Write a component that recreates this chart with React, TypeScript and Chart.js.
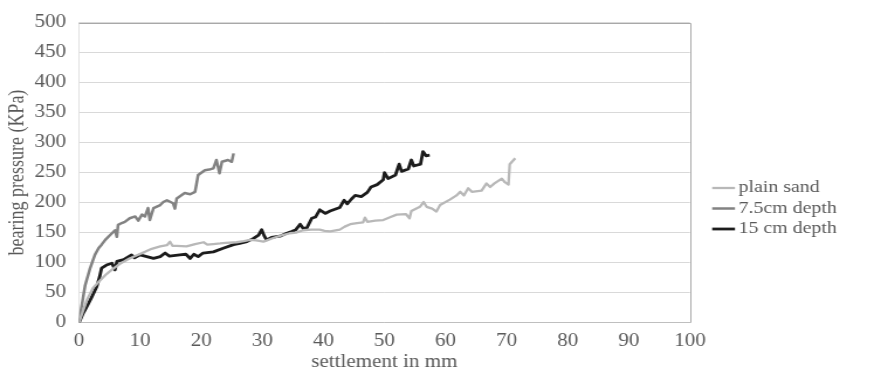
import React, { useEffect, useRef } from "react";
import { Chart, registerables } from "chart.js";

Chart.register(...registerables);

// ---------------- data ----------------
const seriesLabels = ["plain sand", "7.5cm depth", "15 cm depth"];
const seriesColors = ["#b8b8b8", "#828282", "#1c1c1c"];
const seriesWidths = [2.3, 2.5, 2.8];

const plainSandX = [0, 0.5, 1.3, 2.3, 3.4, 4.5, 5.6, 6.7, 8.1, 9.4, 10.8, 11.9, 13.3, 14.4, 14.9, 15.3, 16, 17.6, 19, 20.4, 21, 22, 23.1, 24, 25.8, 27, 28, 29, 30.2, 31.8, 33, 34.5, 35.5, 36.7, 38, 39.4, 40.2, 41.1, 42.7, 43.5, 44.4, 45.5, 46.5, 46.8, 47.2, 48.5, 49.8, 51, 52, 53.5, 54.1, 54.4, 55.8, 56.4, 56.9, 57.8, 58.5, 59.1, 60.7, 61.8, 62.4, 63, 63.7, 64.3, 65.9, 66.7, 67.3, 68, 69.2, 69.7, 70.3, 70.5, 71.4];
const plainSandY = [0, 15, 38, 58, 70, 81, 90, 98, 106, 112, 118, 123, 127, 129, 135, 128, 128, 127, 131, 134, 130, 131, 132, 133, 134, 136, 138, 137, 135, 141, 145, 149, 150, 154, 155, 155, 153, 152, 155, 160, 164, 166, 167, 175, 168, 170, 171, 176, 180, 181, 174, 186, 193, 201, 193, 190, 185, 196, 205, 212, 218, 212, 224, 218, 220, 232, 226, 232, 240, 234, 230, 264, 274];

const depth75X = [0, 0.4, 1.0, 1.8, 2.6, 3.2, 3.7, 4.3, 5.1, 5.9, 6.2, 6.4, 7.0, 7.5, 8.3, 9.2, 9.7, 10.3, 10.8, 11.3, 11.6, 12.2, 13.3, 13.8, 14.4, 15.4, 15.7, 16, 17.3, 18.2, 19, 19.5, 20.6, 21.3, 22, 22.5, 23, 23.4, 24.4, 25, 25.3];
const depth75Y = [0, 25, 62, 90, 113, 124, 130, 138, 146, 154, 143, 163, 166, 168, 174, 177, 170, 180, 177, 191, 171, 191, 196, 201, 204, 199, 190, 207, 216, 214, 218, 246, 254, 255, 257, 271, 249, 268, 271, 268, 282];

const depth15X = [0, 0.7, 1.3, 2.1, 2.9, 3.4, 3.7, 4.5, 5.4, 5.9, 6.2, 7.3, 8.6, 9.1, 10, 11.1, 12.2, 13.3, 14.1, 14.8, 16.5, 17.5, 18.2, 18.8, 19.5, 20.3, 22, 23.6, 25.3, 26.3, 27.5, 28.5, 29.4, 29.9, 30.3, 30.7, 31.5, 32.9, 33.8, 34.8, 35.5, 36.2, 36.7, 37.3, 38.1, 38.7, 39.4, 40.3, 41.1, 42.7, 43.4, 43.9, 44.6, 45.2, 46.2, 47.2, 47.8, 48.8, 49.8, 50.0, 50.6, 51.8, 52.4, 52.8, 53.9, 54.4, 54.8, 55.9, 56.3, 56.8, 57.4];
const depth15Y = [0, 16, 27, 43, 60, 77, 91, 96, 99, 88, 102, 105, 113, 108, 113, 110, 107, 110, 116, 111, 113, 114, 107, 114, 110, 116, 118, 124, 130, 132, 135, 140, 146, 155, 145, 138, 142, 144, 148, 152, 155, 164, 157, 158, 174, 176, 188, 182, 186, 192, 204, 198, 206, 212, 210, 217, 226, 230, 238, 250, 240, 246, 264, 252, 256, 271, 261, 264, 285, 278, 279];

const xAxisTitle = "settlement in mm";
const yAxisTitle = "bearing pressure (KPa)";
const xMin = 0, xMax = 100, xStep = 10;
const yMin = 0, yMax = 500, yStep = 50;

// ---------------- layout ----------------
const PAGE_W = 881;
const PAGE_H = 373;
const CANVAS_W = 753; // drawn narrower, then stretched horizontally like the reference
const FONT = "'Liberation Serif', 'Times New Roman', serif";
const TEXT = "#595959";

const toPoints = (xs: number[], ys: number[]) => xs.map((x, i) => ({ x, y: ys[i] }));

const framePlugin = {
  id: "frameAndLegend",
  afterDraw(chart: any) {
    const { ctx, chartArea } = chart;
    const { left, right, top, bottom } = chartArea;
    ctx.save();
    // plot-area border (top, right)
    ctx.strokeStyle = "#a8a8a8";
    ctx.lineWidth = 1;
    ctx.beginPath();
    ctx.moveTo(left, Math.round(top) + 0.5);
    ctx.lineTo(Math.round(right) + 0.5, Math.round(top) + 0.5);
    ctx.lineTo(Math.round(right) + 0.5, bottom);
    ctx.stroke();
    // legend
    const lx = right + 19;
    const cy = 208.5;
    const gap = 20.5;
    ctx.font = `17px ${FONT}`;
    ctx.textBaseline = "middle";
    ctx.textAlign = "left";
    chart.data.datasets.forEach((ds: any, i: number) => {
      const y = cy + (i - 1) * gap;
      ctx.strokeStyle = ds.borderColor;
      ctx.lineWidth = ds.borderWidth;
      ctx.beginPath();
      ctx.moveTo(lx, y);
      ctx.lineTo(lx + 19.5, y);
      ctx.stroke();
      ctx.fillStyle = TEXT;
      ctx.fillText(ds.label, lx + 22.5, y);
    });
    ctx.restore();
  },
};

export default function App() {
  const ref = useRef<HTMLCanvasElement | null>(null);

  useEffect(() => {
    if (!ref.current) return;
    const xs = [plainSandX, depth75X, depth15X];
    const ys = [plainSandY, depth75Y, depth15Y];
    const chart = new Chart(ref.current, {
      type: "scatter",
      data: {
        datasets: seriesLabels.map((label, i) => ({
          label,
          data: toPoints(xs[i], ys[i]),
          showLine: true,
          borderColor: seriesColors[i],
          backgroundColor: seriesColors[i],
          borderWidth: seriesWidths[i],
          pointRadius: 0,
          pointHoverRadius: 0,
          tension: 0,
          borderJoinStyle: "round" as const,
        })),
      },
      options: {
        responsive: false,
        animation: false,
        devicePixelRatio: 1,
        layout: { padding: { left: 0, top: 22.5, right: 163.3, bottom: 0 } },
        plugins: {
          legend: { display: false },
          tooltip: { enabled: false },
        },
        scales: {
          x: {
            type: "linear",
            min: xMin,
            max: xMax,
            afterFit: (s: any) => { s.height = 50.3; },
            ticks: { stepSize: xStep, color: TEXT, font: { family: FONT, size: 18 }, padding: 8, maxRotation: 0 },
            grid: { display: false, drawTicks: false },
            border: { display: true, color: "#bfbfbf", width: 1 },
            title: { display: true, text: xAxisTitle, color: TEXT, font: { family: FONT, size: 18 }, padding: { top: 0, bottom: 0 } },
          },
          y: {
            type: "linear",
            min: yMin,
            max: yMax,
            afterFit: (s: any) => { s.width = 67.5; },
            ticks: { stepSize: yStep, color: TEXT, font: { family: FONT, size: 18 }, padding: 11 },
            grid: { color: "#d9d9d9", lineWidth: 1, drawTicks: false },
            border: { display: true, color: "#e0e0e0", width: 1 },
            title: { display: true, text: yAxisTitle, color: TEXT, font: { family: FONT, size: 18 }, padding: { top: 4, bottom: 0 } },
          },
        },
      },
      plugins: [framePlugin],
    });
    return () => chart.destroy();
  }, []);

  return (
    <div style={{ position: "fixed", left: 0, top: 0, width: PAGE_W, height: PAGE_H, background: "#fff" }}>
      <canvas
        ref={ref}
        width={CANVAS_W}
        height={PAGE_H}
        style={{ width: `${PAGE_W}px`, height: `${PAGE_H}px`, display: "block" }}
      />
    </div>
  );
}
